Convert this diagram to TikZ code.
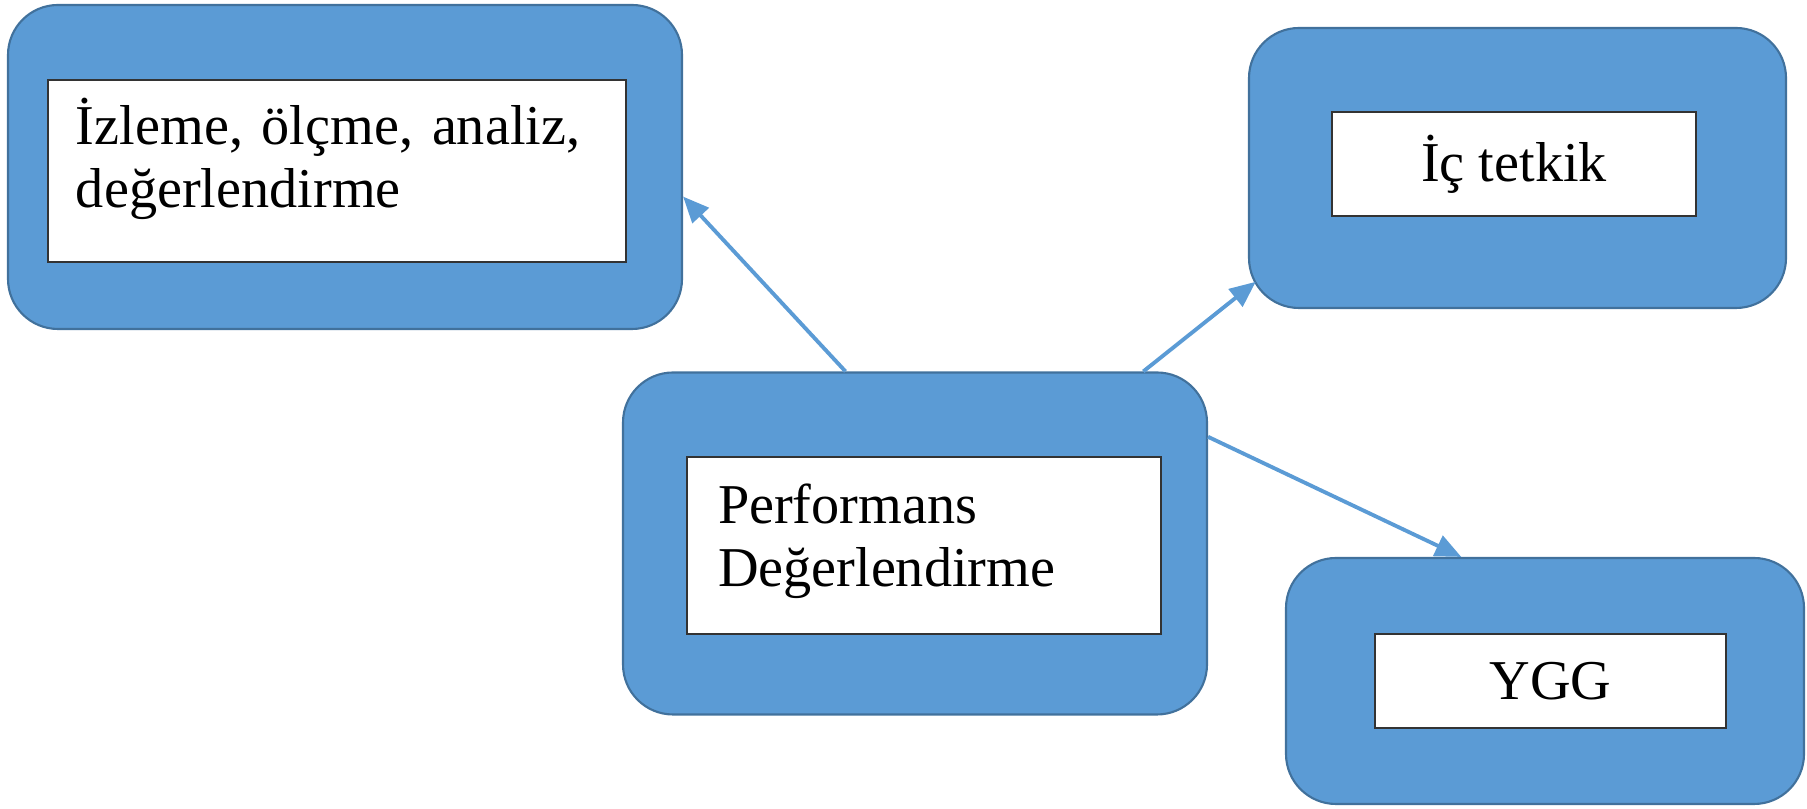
\documentclass[tikz,border=0pt]{standalone}
\usepackage{fontspec}
\setmainfont{Liberation Serif}
\usetikzlibrary{arrows.meta}
\definecolor{ofisMavi}{RGB}{91,155,213}
\definecolor{ofisKenar}{RGB}{65,113,156}

\begin{document}
\begin{tikzpicture}[
	kutu/.style={draw=ofisKenar, line width=0.6pt, fill=ofisMavi, rounded corners=0.5cm, inner sep=0pt},
	pano/.style={draw=black!80, line width=0.6pt, fill=white, inner ysep=0pt, font=\fontsize{16}{18}\selectfont},
	ok/.style={draw=ofisMavi, line width=1.1pt, -{Triangle[length=2.6mm,width=2.2mm]}}
]
	\useasboundingbox (0,0) rectangle (18.07,8.09);

	\node [kutu, minimum width=6.74cm, minimum height=3.24cm] (izlemeDis) at (3.45,6.42) {};
	\node [pano, minimum width=5.78cm, minimum height=1.82cm, inner xsep=0.28cm, text width=5.22cm, align=left] (izleme) at (3.37,6.38) {İzleme, ölçme, analiz,\\ değerlendirme\rule[-10.3pt]{0pt}{0pt}};

	\node [kutu, minimum width=5.37cm, minimum height=2.80cm] (ictetkikDis) at (15.175,6.41) {};
	\node [pano, minimum width=3.64cm, minimum height=1.04cm] (ictetkik) at (15.14,6.45) {İç tetkik};

	\node [kutu, minimum width=5.84cm, minimum height=3.42cm] (perfDis) at (9.15,2.655) {};
	\node [pano, minimum width=4.74cm, minimum height=1.77cm, inner xsep=0.31cm, text width=4.12cm, align=left] (perf) at (9.24,2.635) {Performans\\ Değerlendirme\rule[-6pt]{0pt}{0pt}};

	\node [kutu, minimum width=5.18cm, minimum height=2.46cm] (yggDis) at (15.45,1.28) {};
	\node [pano, minimum width=3.51cm, minimum height=0.94cm] (ygg) at (15.505,1.28) {YGG};

	\draw [ok] (perfDis.112) -- (izlemeDis.-5);
	\draw [ok, shorten >=-1mm] (perfDis.37) -- (ictetkikDis.204);
	\draw [ok] (perfDis.20) -- (yggDis.124.5);
\end{tikzpicture}
\end{document}
